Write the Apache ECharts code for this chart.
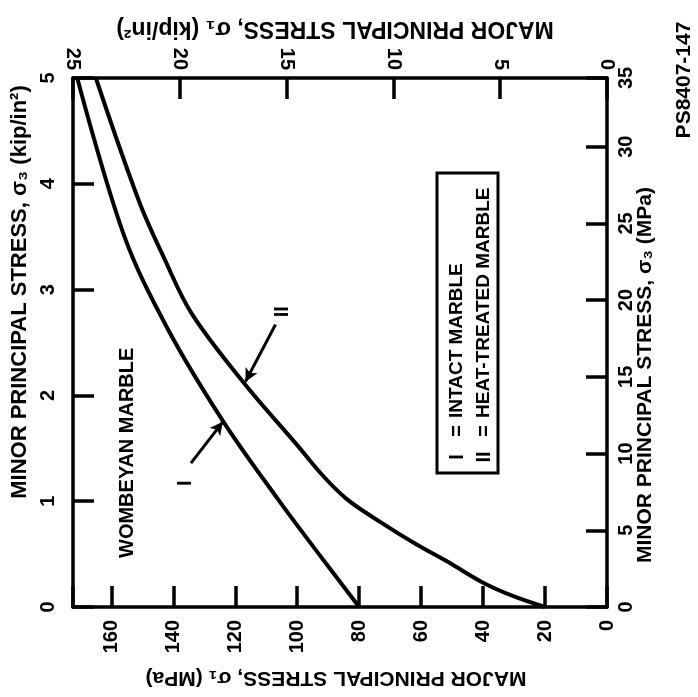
<!DOCTYPE html>
<html>
<head>
<meta charset="utf-8">
<script src="https://cdn.jsdelivr.net/npm/echarts@6/dist/echarts.min.js"></script>
<style>
  html, body { margin: 0; padding: 0; background: #fff; }
  #chart { width: 698px; height: 697px; }
</style>
</head>
<body>
<div id="chart"></div>
<script>
// curve I - intact marble : sigma1 (MPa) vs sigma3 (kip/in2)
var sigma1Intact = [80, 93, 106, 124, 142, 156, 171];
var sigma3Intact = [0, 0.5, 1.01, 1.76, 2.64, 3.52, 5.0];
// curve II - heat treated marble
var sigma1Heat = [20, 30, 40, 51, 62, 73, 84, 92, 100, 117, 134, 143, 151, 165];
var sigma3Heat = [0, 0.1, 0.23, 0.42, 0.6, 0.8, 1.02, 1.25, 1.53, 2.11, 2.77, 3.3, 3.83, 5.0];

// key box entries
var keyMarks = ['I', 'II'];
var keyNames = ['INTACT MARBLE', 'HEAT-TREATED MARBLE'];

var ksiToMpa = 6.895;
var mpaMax = 25 * ksiToMpa;     // bottom axis range (same as 25 kip/in2 on top)
var s3MpaMax = 5 * ksiToMpa;    // right axis range (same as 5 kip/in2 on left)

var FONT = 'Liberation Sans, Arial, sans-serif';
var BLACK = '#000';

function pairs(xs, ys) {
    var out = [];
    for (var i = 0; i < xs.length; i++) out.push([xs[i], ys[i]]);
    return out;
}

var myChart = echarts.init(document.getElementById('chart'));

var axisCommon = {
    axisLine: { show: true, onZero: false, lineStyle: { color: BLACK, width: 3.5 } },
    axisTick: { show: true, inside: true, length: 21, lineStyle: { color: BLACK, width: 3.5 } },
    splitLine: { show: false },
    axisLabel: {
        rotate: 90, color: BLACK, fontFamily: FONT, fontWeight: 'bold', fontSize: 20
    }
};

function ax(extra) {
    return echarts.util.merge(echarts.util.clone(axisCommon), extra, true);
}

var option = {
    backgroundColor: '#fff',
    animation: false,
    grid: { left: 73, right: 91, top: 78, bottom: 90 },
    xAxis: [
        ax({ type: 'value', position: 'bottom', min: 0, max: mpaMax, interval: 20, inverse: true,
             axisLabel: { margin: 13, formatter: function (v) { return v > 165 ? '' : v; } } }),
        ax({ type: 'value', position: 'top', min: 0, max: 25, interval: 5, inverse: true,
             axisLabel: { margin: 8 } })
    ],
    yAxis: [
        ax({ type: 'value', position: 'left', min: 0, max: 5, interval: 1,
             axisLabel: { margin: 15 } }),
        ax({ type: 'value', position: 'right', min: 0, max: s3MpaMax, interval: 5,
             axisLabel: { margin: 9, showMaxLabel: true,
                          formatter: function (v) { return Math.round(v / 5) * 5; } } })
    ],
    series: [
        {
            name: 'I', type: 'line', xAxisIndex: 0, yAxisIndex: 0,
            data: pairs(sigma1Intact, sigma3Intact),
            smooth: 0.35, showSymbol: false,
            lineStyle: { color: BLACK, width: 4 },
            markLine: {
                silent: true, symbol: ['none', 'arrow'], symbolSize: [10, 13],
                label: { show: false },
                lineStyle: { color: BLACK, width: 3, type: 'solid' },
                data: [
                    [{ coord: [134.3, 1.36] }, { coord: [124, 1.75] }],
                    [{ coord: [107, 2.67] }, { coord: [116.7, 2.13] }]
                ]
            }
        },
        {
            name: 'II', type: 'line', xAxisIndex: 0, yAxisIndex: 0,
            data: pairs(sigma1Heat, sigma3Heat),
            smooth: 0.35, showSymbol: false,
            lineStyle: { color: BLACK, width: 4 }
        }
    ]
};
myChart.setOption(option);

function txt(x, y, text, size, rot, align) {
    return {
        type: 'text', x: x, y: y, rotation: rot,
        style: {
            text: text, fill: BLACK, align: align || 'center', verticalAlign: 'middle',
            font: 'bold ' + size + 'px ' + FONT
        }
    };
}

var up = Math.PI / 2;
var flip = Math.PI;
var pI = myChart.convertToPixel({ xAxisIndex: 0, yAxisIndex: 0 }, [136, 1.17]);
var pII = myChart.convertToPixel({ xAxisIndex: 0, yAxisIndex: 0 }, [104.8, 2.79]);

var graphics = [
    txt(20, 292, 'MINOR PRINCIPAL STRESS, \u03c3\u2083 (kip/in\u00b2)', 22, up),
    txt(645, 375, 'MINOR PRINCIPAL STRESS, \u03c3\u2083 (MPa)', 21, up),
    txt(336, 678, 'MAJOR PRINCIPAL STRESS, \u03c3\u2081 (MPa)', 21, flip),
    txt(335, 28, 'MAJOR PRINCIPAL STRESS, \u03c3\u2081 (kip/in\u00b2)', 23, flip),
    txt(684, 80, 'PS8407-147', 21, up),
    txt(127, 558, 'WOMBEYAN MARBLE', 20, up, 'left'),
    txt(pI[0], pI[1], 'I', 20, up),
    txt(pII[0], pII[1], 'II', 20, up),
    {
        type: 'rect', shape: { x: 437, y: 173, width: 61, height: 300 },
        style: { fill: 'none', stroke: BLACK, lineWidth: 3 }
    }
];
// key box rows
for (var k = 0; k < keyMarks.length; k++) {
    var kx = 457 + k * 27;
    graphics.push(txt(kx, 457, keyMarks[k], 20, up));
    graphics.push(txt(kx, 431, '=', 20, up));
    graphics.push(txt(kx, 418, keyNames[k], 19, up, 'left'));
}
myChart.setOption({ graphic: graphics });
</script>
</body>
</html>
